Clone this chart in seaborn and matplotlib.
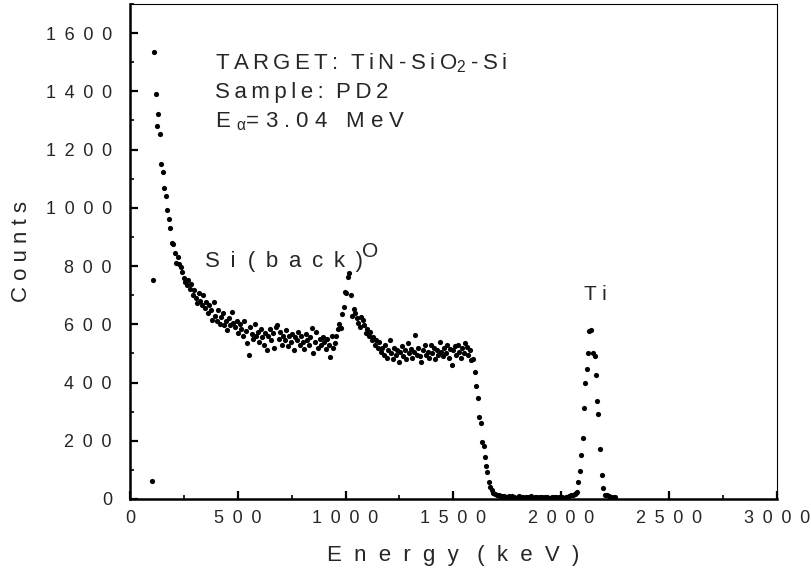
import numpy as np
import pandas as pd
import matplotlib
matplotlib.use('Agg')
import matplotlib.pyplot as plt
import seaborn as sns
from matplotlib.ticker import MultipleLocator, FuncFormatter

# RBS spectrum, segment by segment
e_front = [102, 108, 110, 119, 125, 131, 139, 145, 152, 158, 165, 172, 179, 186,
           193, 200, 207, 214, 221, 228, 235, 242, 249]
c_front = [62, 752, 1535, 1390, 1282, 1323, 1252, 1150, 1124, 1069, 1040, 992, 960, 930,
           878, 874, 845, 809, 832, 807, 795, 780, 759]

e_si = [256, 263, 270, 277, 284, 291, 298, 305, 312, 319, 326, 333, 340, 347, 354,
        361, 368, 375, 382, 389, 396, 403, 410, 417, 424, 431, 438, 445, 452, 459,
        466, 473, 480, 487, 494,
        501, 508, 515, 522, 529, 536, 543, 550, 557, 564, 571, 578, 585, 592, 599,
        606, 613, 620, 627, 634, 641, 648, 655, 662, 669, 676, 683, 690, 697, 704,
        711, 718, 725, 732, 739, 746, 753, 760, 767, 774, 781, 788, 795, 802, 809,
        816, 823, 830, 837, 844, 851, 858, 865, 872, 879, 886, 893, 900, 907, 914,
        921, 928, 935, 942, 949]
c_si = [745, 735, 752, 720, 740, 700, 718, 690, 672, 707, 680, 666, 700, 655, 678,
        638, 665, 650, 615, 678, 630, 612, 648, 600, 625, 640, 598, 612, 580, 622,
        596, 643, 605, 590, 612,
        570, 600, 585, 560, 612, 578, 535, 494, 590, 565, 548, 602, 560, 575, 540,
        585, 555, 530, 570, 512, 560, 585, 545, 570, 520, 592, 598, 550, 575, 530,
        560, 545, 580, 525, 560, 540, 565, 510, 555, 546, 575, 530, 560, 540, 515,
        568, 545, 530, 555, 586, 503, 540, 575, 520, 550, 530, 557, 540, 515, 548,
        530, 489, 560, 520, 535]

e_o = [956, 963, 970, 977, 984, 991, 998, 1002, 1009, 1016, 1023, 1030, 1037, 1044,
       1051, 1058, 1065, 1072, 1079, 1086, 1093, 1100, 1107, 1114, 1121, 1128, 1135,
       1142, 1149, 1156, 1163]
c_o = [560, 583, 600, 586, 635, 660, 712, 708, 763, 775, 700, 628, 651, 640,
       620, 603, 590, 624, 615, 598, 570, 583, 560, 575, 546, 557, 530,
       546, 520, 540, 505]

e_film = [1170, 1177, 1184, 1191, 1198, 1205, 1212, 1219, 1226, 1233, 1240, 1247,
          1254, 1261, 1268, 1275, 1282, 1289, 1296, 1303, 1310, 1317, 1324, 1331,
          1338, 1345, 1352, 1359, 1366, 1373, 1380, 1387, 1394, 1401, 1408, 1415,
          1422, 1429, 1436, 1443, 1450, 1457, 1464, 1471, 1478, 1485, 1492, 1499,
          1506, 1513, 1520, 1527, 1534, 1541, 1548, 1555, 1562, 1569, 1576, 1583, 1590]
c_film = [517, 495, 530, 485, 510, 546, 500, 480, 520, 495, 510, 470,
          505, 525, 490, 512, 480, 535, 500, 515, 485, 505, 563, 495,
          520, 490, 470, 510, 528, 495, 505, 485, 530, 500, 520, 482,
          510, 495, 538, 505, 490, 520, 500, 530, 485, 515, 460, 510,
          525, 495, 530, 505, 485, 520, 500, 535, 523, 495, 510, 477, 480]

e_edge = [1600, 1607, 1614, 1620, 1627, 1633, 1640, 1647, 1653, 1658, 1664, 1671,
          1678, 1686, 1694, 1702, 1710]
c_edge = [437, 388, 348, 283, 260, 197, 183, 145, 114, 94, 60, 42,
          31, 22, 18, 15, 12]

e_gap = [1718, 1726, 1734, 1742, 1750, 1758, 1766, 1774, 1782, 1790, 1798, 1806,
         1814, 1822, 1830, 1838, 1846, 1854, 1862, 1870, 1878, 1886, 1894, 1902,
         1910, 1918, 1926, 1934, 1942, 1950, 1958, 1966, 1974, 1982, 1990, 1998,
         2006, 2014, 2022, 2030, 2038, 2046, 2054, 2062]
c_gap = [10, 9, 11, 8, 7, 10, 6, 9, 8, 5, 7, 9,
         6, 8, 5, 7, 6, 8, 9, 5, 6, 7, 4, 6,
         8, 5, 7, 6, 4, 5, 7, 6, 8, 5, 6, 4,
         7, 5, 6, 8, 10, 12, 15, 18]

e_ti = [2069, 2073, 2077, 2086, 2093, 2100, 2106, 2112, 2118, 2124, 2131, 2140,
        2148, 2156, 2162, 2167, 2172, 2180, 2187, 2195, 2203, 2212, 2222, 2235, 2250]
c_ti = [20, 25, 60, 97, 151, 208, 311, 397, 445, 500, 578, 580,
        503, 491, 426, 336, 291, 172, 82, 37, 15, 12, 10, 8, 6]

energy = e_front + e_si + e_o + e_film + e_edge + e_gap + e_ti
counts = c_front + c_si + c_o + c_film + c_edge + c_gap + c_ti
df = pd.DataFrame({'energy': energy, 'counts': counts})

sns.set_style('ticks')
plt.rcParams['font.family'] = ['Liberation Sans', 'DejaVu Sans']
plt.rcParams['mathtext.fontset'] = 'custom'
plt.rcParams['mathtext.rm'] = 'Liberation Sans'
plt.rcParams['mathtext.it'] = 'Liberation Sans'

TH = '\u2009'   # thin space, the old plot uses wide letter spacing


def spread(text, gap):
    return gap.join(text)


fig = plt.figure(figsize=(8.11, 5.75), dpi=100)
ax = fig.add_axes([0.1603, 0.1322, 0.7975, 0.8609])

sns.scatterplot(data=df, x='energy', y='counts', color='black', s=14,
                edgecolor=None, linewidth=0, ax=ax)

ax.set_xlim(0, 3000)
ax.set_ylim(0, 1700)
ax.xaxis.set_major_locator(MultipleLocator(500))
ax.xaxis.set_minor_locator(MultipleLocator(250))
ax.set_yticks(range(0, 1601, 200))
ax.yaxis.set_minor_locator(MultipleLocator(100))

spaced = FuncFormatter(lambda v, p: spread(str(int(round(v))), ' ' + TH))
ax.xaxis.set_major_formatter(spaced)
ax.yaxis.set_major_formatter(spaced)

ax.tick_params(which='both', direction='in', top=False, right=False, color='black')
ax.tick_params(which='major', length=6, width=1.6, labelsize=13, pad=8)
ax.tick_params(which='minor', length=3, width=1.2)
ax.tick_params(axis='y', which='major', pad=13)

for side in ['left', 'bottom']:
    ax.spines[side].set_linewidth(1.8)
for side in ['top', 'right']:
    ax.spines[side].set_linewidth(0.8)
for s in ax.spines.values():
    s.set_color('black')
    s.set_visible(True)

ax.set_xlabel('E  n  e  r  g  y   (  k  e  V  )', fontsize=16, labelpad=13)
ax.set_ylabel(spread('Counts', ' '), fontsize=16, labelpad=10)

ax.text(393, 1476, spread('TARGET:', TH) + '  ' + spread('TiN-SiO', TH)
        + r'$_{2}$' + TH + spread('-Si', TH), fontsize=16)
ax.text(393, 1377, spread('Sample:', TH) + '  ' + spread('PD2', TH), fontsize=16)
ax.text(393, 1277, r'E $_{α}$= 3 . 0 4   M e V', fontsize=16)
ax.text(347, 797, spread('Si', ' ' + TH) + '  ' + spread('(back)', ' ' + TH), fontsize=16)
ax.text(1077, 831, 'O', fontsize=15)
ax.text(2104, 683, 'T i', fontsize=15)

fig.savefig('out.png', dpi=100)
